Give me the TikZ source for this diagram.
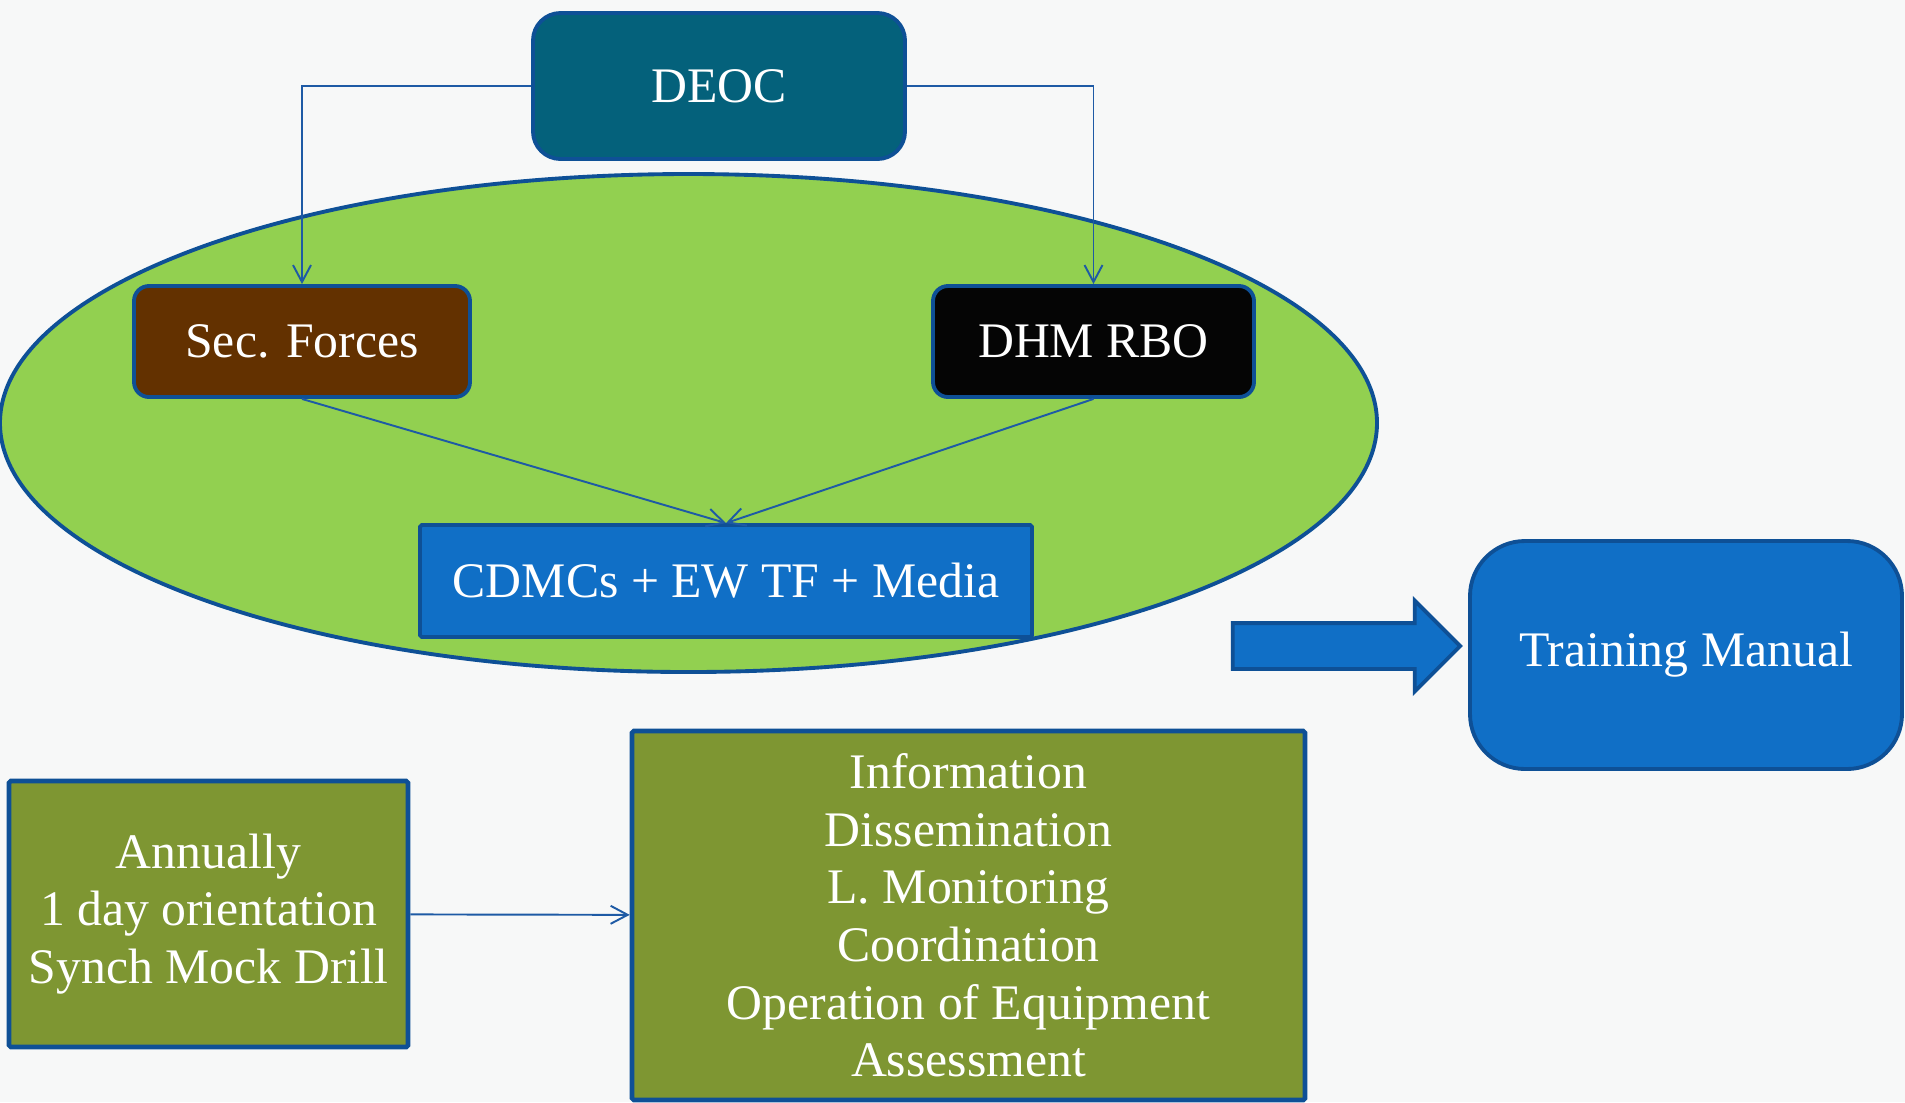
\documentclass[tikz,border=0pt]{standalone}
\usepackage{fontspec}
\setmainfont{Liberation Serif}
\usepackage{tikz}
\usetikzlibrary{arrows.meta}
\usetikzlibrary{shapes.geometric, shapes.arrows}
\definecolor{paper}{RGB}{247,248,248}
\definecolor{edgeblue}{RGB}{14,80,150}
\definecolor{lineblue}{RGB}{30,90,165}
\definecolor{deocteal}{RGB}{4,97,123}
\definecolor{zonegreen}{RGB}{146,208,80}
\definecolor{forcebrown}{RGB}{99,49,0}
\definecolor{rboblack}{RGB}{5,5,5}
\definecolor{mediablue}{RGB}{16,111,198}
\definecolor{drillolive}{RGB}{126,150,50}
\tikzstyle{hub} = [rectangle, rounded corners=0.55cm, minimum width=7.44cm, minimum height=2.92cm, text centered, draw=edgeblue, line width=2.2pt, fill=deocteal, text=white]
\tikzstyle{zone} = [ellipse, minimum width=27.54cm, minimum height=9.96cm, draw=edgeblue, line width=2.2pt, fill=zonegreen]
\tikzstyle{unit} = [rectangle, rounded corners=0.3cm, minimum height=2.22cm, text centered, draw=edgeblue, line width=2.2pt, text=white]
\tikzstyle{media} = [rectangle, rounded corners=1pt, minimum width=12.24cm, minimum height=2.24cm, text centered, draw=edgeblue, line width=2.2pt, fill=mediablue, text=white]
\tikzstyle{manual} = [rectangle, rounded corners=1.1cm, minimum width=8.64cm, minimum height=4.56cm, text centered, draw=edgeblue, line width=2.2pt, fill=mediablue, text=white]
\tikzstyle{push} = [single arrow, single arrow head extend=0.45cm, single arrow tip angle=90, minimum width=1.76cm, minimum height=4.55cm, inner xsep=0pt, inner ysep=0.42cm, draw=edgeblue, line width=2.2pt, fill=mediablue]
\tikzstyle{drill} = [rectangle, rounded corners=1pt, align=center, draw=edgeblue, line width=2.6pt, fill=drillolive, text=white]
\tikzstyle{link} = [->, >={Straight Barb[length=0.34cm,width=0.36cm]}, draw=lineblue, line width=1.1pt]

\begin{document}
\begin{tikzpicture}[node distance=5.11cm, font=\fontsize{28.3}{32.8}\selectfont]
\fill [paper] (0,0) rectangle (38.1,-22.04);
\useasboundingbox (0,0) rectangle (38.1,-22.04);

\node (deoc) [hub] at (14.38,-1.72) {DEOC};
\node (zone) [zone, below of=deoc, xshift=-0.61cm, yshift=-1.63cm] {};
\node (secf) [unit, fill=forcebrown, minimum width=6.72cm, below of=deoc, xshift=-8.34cm] {Sec. Forces};
\node (dhm)  [unit, fill=rboblack, minimum width=6.42cm, below of=deoc, xshift=7.49cm] {DHM RBO};
\node (cdm)  [media, below of=deoc, xshift=0.14cm, yshift=-4.79cm] {CDMCs + EW TF + Media};
\node (train) [manual, right of=cdm, xshift=14.09cm, yshift=-1.48cm] {Training Manual};
\node (push) [push, left of=train, xshift=-1.91cm, yshift=0.18cm] {};
\node (info) [drill, minimum width=13.46cm, minimum height=7.38cm, below of=cdm, xshift=4.85cm, yshift=-1.58cm] {Information\\Dissemination\\L. Monitoring\\Coordination\\Operation of Equipment\\Assessment};
\node (annu) [drill, minimum width=7.98cm, minimum height=5.32cm, left of=info, xshift=-10.09cm, yshift=0.03cm] {Annually\\1 day orientation\\Synch Mock Drill};

\draw [link] (deoc.west) -| (secf.north);
\draw [link] (deoc.east) -| (dhm.north);
\draw [link] (secf.south) -- (cdm.north);
\draw [link] (dhm.south) -- (cdm.north);
\draw [link] (annu) -- (info);
\end{tikzpicture}
\end{document}
